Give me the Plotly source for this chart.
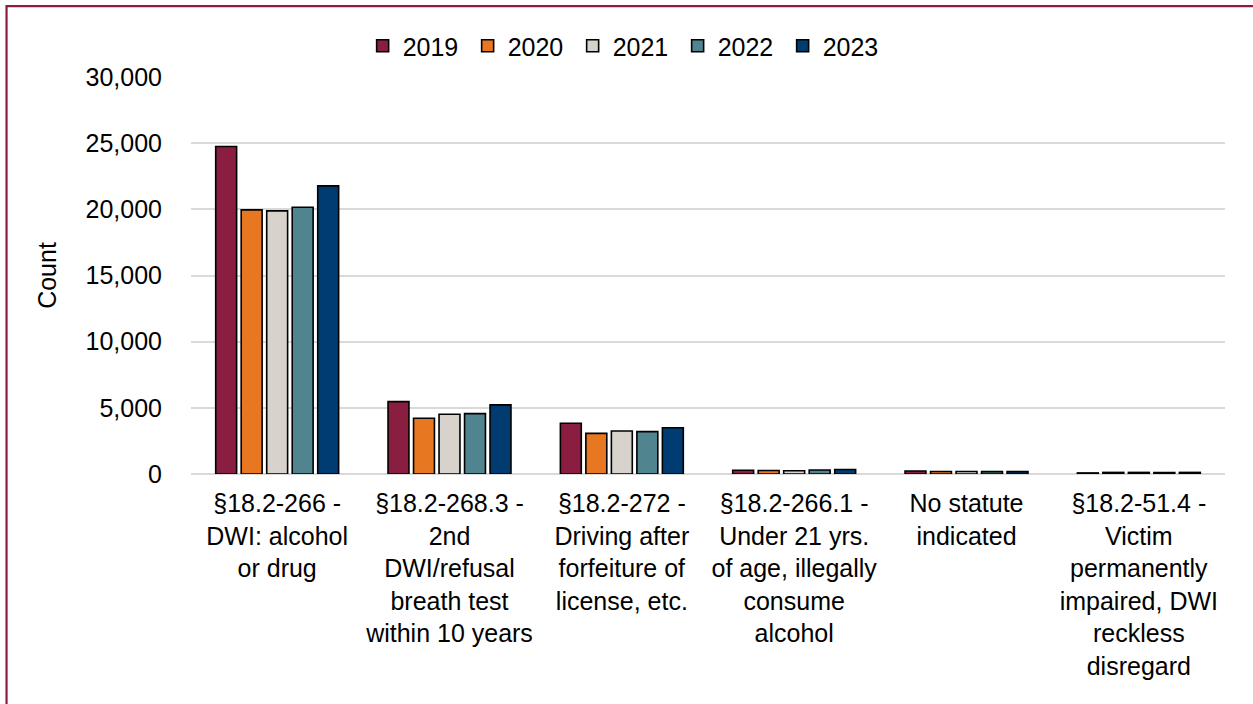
import plotly.graph_objects as go

# DWI-related charges by statute, 2019-2023
categories = [
    "§18.2-266",
    "§18.2-268.3",
    "§18.2-272",
    "§18.2-266.1",
    "No statute",
    "§18.2-51.4",
]
tick_labels = [
    "§18.2-266 -<br>DWI: alcohol<br>or drug",
    "§18.2-268.3 -<br>2nd<br>DWI/refusal<br>breath test<br>within 10 years",
    "§18.2-272 -<br>Driving after<br>forfeiture of<br>license, etc.",
    "§18.2-266.1 -<br>Under 21 yrs.<br>of age, illegally<br>consume<br>alcohol",
    "No statute<br>indicated",
    "§18.2-51.4 -<br>Victim<br>permanently<br>impaired, DWI<br>reckless<br>disregard",
]
years = ["2019", "2020", "2021", "2022", "2023"]

counts_2019 = [24750, 5470, 3830, 280, 230, 80]
counts_2020 = [19960, 4210, 3070, 270, 190, 120]
counts_2021 = [19880, 4510, 3250, 250, 190, 120]
counts_2022 = [20160, 4560, 3200, 300, 180, 110]
counts_2023 = [21770, 5220, 3500, 340, 180, 120]

y_ticks = [0, 5000, 10000, 15000, 20000, 25000, 30000]

series = [counts_2019, counts_2020, counts_2021, counts_2022, counts_2023]
colors = ["#8A1E41", "#E87722", "#D7D2CB", "#508590", "#003C71"]

FONT = "Liberation Sans, Arial, sans-serif"

fig = go.Figure()
for year, vals, col in zip(years, series, colors):
    fig.add_trace(go.Bar(
        x=categories,
        y=vals,
        name=year,
        marker=dict(color=col, line=dict(color="#000000", width=1.6)),
    ))

fig.update_layout(
    width=1253,
    height=704,
    margin=dict(l=191, r=28, t=77, b=230),
    paper_bgcolor="white",
    plot_bgcolor="white",
    font=dict(family=FONT, size=25, color="#000000"),
    barmode="group",
    bargap=0.26,
    bargroupgap=0.18,
    showlegend=True,
    legend=dict(
        orientation="h",
        x=0.166,
        xanchor="left",
        y=1.078,
        yanchor="middle",
        font=dict(family=FONT, size=25, color="#000000"),
        bgcolor="rgba(0,0,0,0)",
        entrywidth=60,
        entrywidthmode="pixels",
        itemwidth=30,
        traceorder="normal",
    ),
    xaxis=dict(
        tickmode="array",
        tickvals=categories,
        ticktext=tick_labels,
        tickangle=0,
        showgrid=False,
        showline=False,
        ticks="",
        ticklabelstandoff=12,
        tickfont=dict(family=FONT, size=25, color="#000000"),
    ),
    yaxis=dict(
        range=[0, 30000],
        tickmode="array",
        tickvals=y_ticks,
        tickformat=",d",
        showgrid=True,
        gridcolor="#D9D9D9",
        gridwidth=1.5,
        zeroline=True,
        zerolinecolor="#D9D9D9",
        zerolinewidth=1.5,
        showline=False,
        ticks="",
        ticklabelstandoff=28,
        tickfont=dict(family=FONT, size=25, color="#000000"),
        title=dict(text="Count", standoff=21,
                   font=dict(family=FONT, size=25, color="#000000")),
    ),
    shapes=[
        dict(
            type="rect", xref="paper", yref="paper",
            x0=-0.1784, x1=1.036, y0=-0.598, y1=1.1786,
            line=dict(color="#8A1E41", width=2.2),
            fillcolor="rgba(0,0,0,0)",
            layer="above",
        )
    ],
)

fig.write_html("out.html")
